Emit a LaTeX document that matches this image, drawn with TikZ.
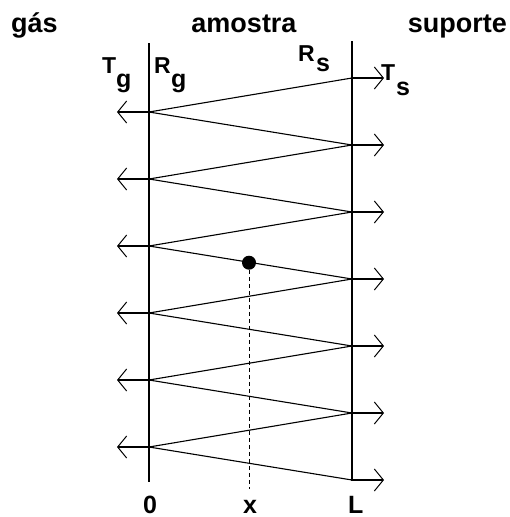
\documentclass[tikz,border=0pt]{standalone}
\usepackage{fontspec}
\setmainfont{Liberation Sans}
\usetikzlibrary{arrows.meta}
\newcommand{\mainlet}{\fontsize{23}{26}\selectfont\bfseries}
\newcommand{\sublet}{\fontsize{25}{28}\selectfont\bfseries}
\begin{document}
\begin{tikzpicture}[x=1pt,y=-1pt,
  wall/.style={line width=1.3pt},
  ray/.style={line width=1.1pt},
  outl/.style={line width=2.6pt,-{Straight Barb[length=9pt,width=22pt,line width=1pt]}},
  lbl/.style={font=\fontsize{27}{30}\selectfont\bfseries, inner sep=0pt},
  letbox/.style={inner sep=0pt, anchor=base west},
  axl/.style={font=\fontsize{25}{28}\selectfont\bfseries, inner sep=0pt, anchor=base},
  ]
\useasboundingbox (0,0) rectangle (509,517);
% walls
\coordinate (Ltop) at (149,43);
\coordinate (Lbot) at (149,482);
\coordinate (Rtop) at (352,41);
\coordinate (Rbot) at (352,481);
\draw[wall] (Ltop) -- (Lbot);
\draw[wall] (Rtop) -- (Rbot);
% reflection points
\foreach \i in {0,...,5} {
  \coordinate (l\i) at (149,112+67*\i);
  \coordinate (la\i) at (117,112+67*\i);
}
\foreach \i in {0,...,6} {
  \coordinate (r\i) at (352,78+67*\i);
  \coordinate (ra\i) at (384,78+67*\i);
}
% zigzag
\draw[ray] (r0) -- (l0) -- (r1) -- (l1) -- (r2) -- (l2) -- (r3) -- (l3) -- (r4) -- (l4) -- (r5) -- (l5) -- (r6);
% outgoing arrows
\foreach \i in {0,...,5} \draw[outl] (l\i) -- (la\i);
\foreach \i in {0,...,6} \draw[outl] (r\i) -- (ra\i);
% point x
\node[circle, fill, inner sep=0pt, minimum size=14pt] (dot) at (249,262.7) {};
\coordinate (xb) at (249,489);
\draw[line width=1pt, dash pattern=on 4pt off 3pt] (dot) -- (xb);
% top labels
\node[lbl, anchor=base west] (gas) at (11,32) {gás};
\node[lbl, anchor=base] (amo) at (244,32) {amostra};
\node[lbl, anchor=base east] (sup) at (507,32) {suporte};
% symbols
\node[letbox] (Tg) at (102,73) {\mainlet T};
\node[letbox] (Tgs) at (116,87) {\sublet g};
\node[letbox] (Rg) at (154,73) {\mainlet R};
\node[letbox] (Rgs) at (171,87) {\sublet g};
\node[letbox] (Rs) at (298,61) {\mainlet R};
\node[letbox] (Rss) at (316,71) {\sublet s};
\node[letbox] (Ts) at (381,80) {\mainlet T};
\node[letbox] (Tss) at (396,95) {\sublet s};
% axis labels
\node[axl] (zero) at (150,513) {0};
\node[axl] (xl) at (250,513) {x};
\node[axl, anchor=base west] (Ll) at (348,513) {L};
\end{tikzpicture}
\end{document}
